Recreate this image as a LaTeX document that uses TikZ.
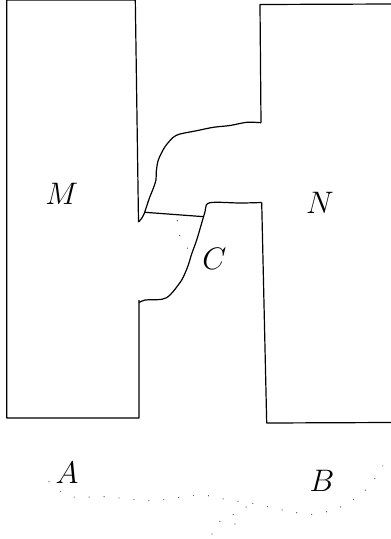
\documentclass[tikz,border=0pt]{standalone}
\usepackage{tikz}
\usetikzlibrary{positioning}
\tikzset{
  wall/.style={line width=1.2pt, line join=round},
  dotline/.style={black!75, line width=1.2pt, line cap=round, dash pattern=on 0pt off 15pt},
  lab/.style={font=\Huge, scale=1.25, inner sep=0pt}
}

\begin{document}
\begin{tikzpicture}[x=1pt, y=-1pt]
      \useasboundingbox (0,0) rectangle (391,539);

      % block M
      \draw[wall] (138.5,222) -- (135.3,0) -- (6.7,0) -- (6.7,418) -- (139,418) -- (139,300);
      % block N
      \draw[wall] (261,122.7) -- (260,4.5) -- (391,4);
      \draw[wall] (261.7,202.5) -- (266.7,423) -- (391,422.5);

      % upper rough edge
      \draw[wall] plot[smooth, tension=0.5] coordinates {(138.5,222) (141.7,218.3) (144.3,213.3)
        (146,208.3) (149.3,198.3) (153.3,188.3) (156,180) (156.3,171.7) (158.3,160) (165,146.7)
        (173.3,137.3) (180,134) (196.7,130.7) (213.3,127.3) (230,125.5) (246.7,122.3) (261,122.7)};
      % lower rough edge
      \draw[wall] plot[smooth, tension=0.5] coordinates {(139,302.7) (145,300) (161.7,299.3)
        (170,295) (181.7,280) (188.3,265) (191.3,255) (196.7,240) (201.7,223) (205,211.7)
        (206.3,205) (210,202.7) (220,202.3) (240,203) (261.7,202.5)};
      % crack line
      \draw[wall] (145,212.3) -- (204,216.7);

      \node[lab] (M) at (61.7,194) {$M$};
      \node[lab] (N) at (320,203) {$N$};
      \node[lab] (C) at (214.5,259) {$C$};
      \node[lab] (A) at (67,473) {$A$};
      \node[lab] (B) at (322,481) {$B$};

      % dotted traces
      \draw[dotline] (177.3,220.7) .. controls (178,232) and (180,248) .. (198.7,255);
      \draw[dotline] plot[smooth] coordinates {(49,481.7) (60.7,491.7) (75,497.3) (106,496.7)
        (152.7,500.7) (199,495) (229,500) (252.3,503.3) (282.7,510) (313.3,514.3) (343.3,505.7)
        (368.3,487.3) (385,462)};
      \draw[dotline] plot[smooth] coordinates {(212,534) (219.3,521.7) (234.5,514) (252,503.5)};
      \draw[dotline] (235,524) -- (242.3,511.7);
    \end{tikzpicture}
\end{document}
